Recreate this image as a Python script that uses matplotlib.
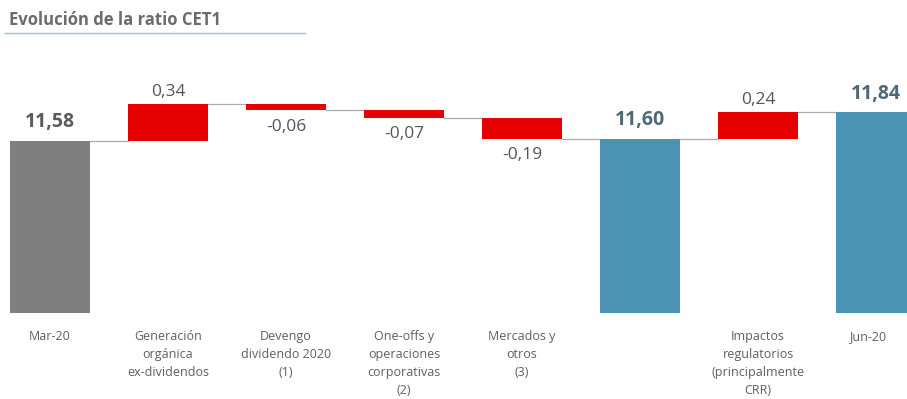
import matplotlib
matplotlib.use("Agg")
import matplotlib.pyplot as plt
import matplotlib.transforms as mtransforms

plt.rcParams['font.family'] = ['Open Sans', 'DejaVu Sans']

categories = ["Mar-20", "Generación\norgánica\nex-dividendos", "Devengo\ndividendo 2020\n(1)",
              "One-offs y\noperaciones\ncorporativas\n(2)", "Mercados y\notros\n(3)", "",
              "Impactos\nregulatorios\n(principalmente\nCRR)", "Jun-20"]
values = [11.58, 0.34, -0.06, -0.07, -0.19, 11.60, 0.24, 11.84]
kinds = ["total_start", "delta", "delta", "delta", "delta", "total", "delta", "total"]
value_labels = ["11,58", "0,34", "-0,06", "-0,07", "-0,19", "11,60", "0,24", "11,84"]

BASE = 10.0
GREY = "#7f7f7f"
RED = "#e60000"
BLUE = "#4a93b5"

fig = plt.figure(figsize=(9.07, 3.99), dpi=100)
ax = fig.add_axes([0, 86/399, 1, 253/399])
ax.set_xlim(-50/118, (907-50)/118)
ax.set_ylim(BASE, BASE + 253/109)
ax.axis('off')

w = 0.67
running = 0
tops = []
for i, (v, k) in enumerate(zip(values, kinds)):
    if k in ("total_start", "total"):
        col = GREY if k == "total_start" else BLUE
        ax.bar(i, v - BASE, bottom=BASE, width=w, color=col, zorder=2)
        running = v
        lc = "#5a5a5a" if k == "total_start" else "#4f6878"
        ax.annotate(value_labels[i], (i, v), xytext=(0, 6), textcoords='offset points',
                    ha='center', va='bottom', fontsize=14, fontweight='bold', color=lc)
        end = v
    else:
        start = running
        end = running + v
        ax.bar(i, v, bottom=start, width=w, color=RED, zorder=2)
        running = end
        if v >= 0:
            ax.annotate(value_labels[i], (i, end), xytext=(0, 3), textcoords='offset points',
                        ha='center', va='bottom', fontsize=12.5, color="#555555")
        else:
            ax.annotate(value_labels[i], (i, end), xytext=(0, -6), textcoords='offset points',
                        ha='center', va='top', fontsize=12.5, color="#555555")
    tops.append(end)

# connectors
for i in range(len(values) - 1):
    y = tops[i]
    ax.plot([i + w/2, i + 1 - w/2], [y, y], color="#aaaaaa", lw=0.9, zorder=1)

# category labels
for i, c in enumerate(categories):
    if not c:
        continue
    xoff = -0.07 if i == len(categories) - 1 else 0
    t = ax.text(i + xoff, BASE, c, ha='center', va='top',
                fontsize=9, color="#5f5f5f", linespacing=1.5)
    t.set_transform(ax.transData + mtransforms.ScaledTranslation(0, -12/72, fig.dpi_scale_trans))

# title
fig.text(9/907, 1 - 20/399, "Evolución de la ratio CET1", ha='left', va='center',
         fontsize=12, fontweight='bold', color="#6b6b6b")
fig.add_artist(plt.Line2D([5/907, 305/907], [1 - 33/399, 1 - 33/399], color="#a9bcc8", lw=1))

fig.savefig("out.png", dpi=100)
